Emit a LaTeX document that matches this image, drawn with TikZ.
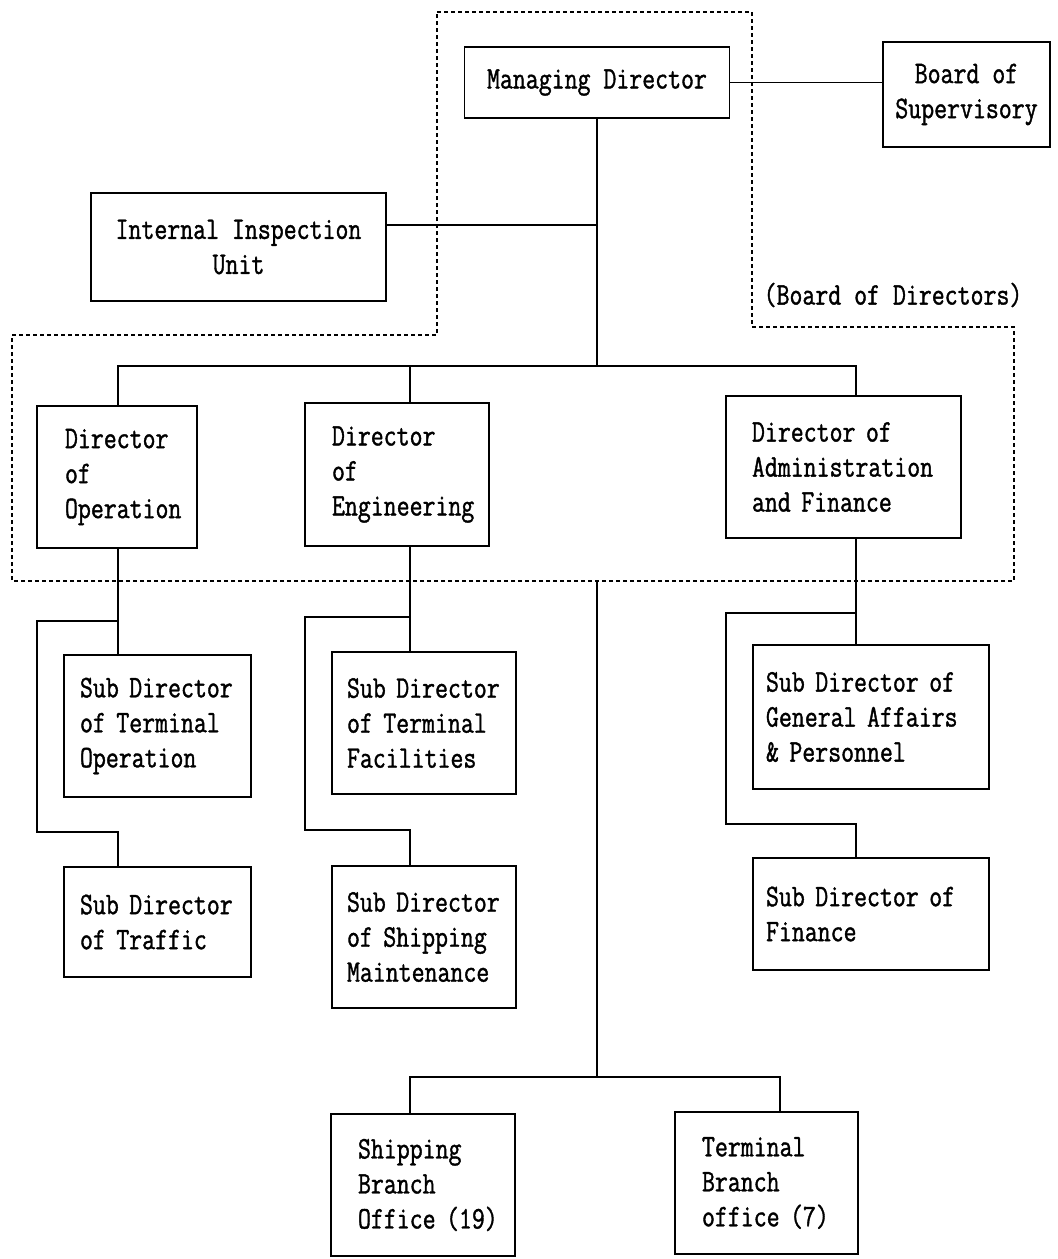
\documentclass[tikz,border=0pt]{standalone}
\usepackage{fontspec}
\usepackage{tikz}
\newfontfamily\chartfont[FakeStretch=0.8, FakeBold=1.2]{Latin Modern Mono}

\tikzset{
  unit/.style={draw, line width=0.75pt, align=left, inner xsep=0pt, inner ysep=0pt,
    font={\chartfont\fontsize{15.7}{17.5}\selectfont\hyphenpenalty=10000}},
  link/.style={line width=0.75pt},
  board/.style={line width=0.6pt, dash pattern=on 2pt off 1.5pt},
}

\begin{document}
\begin{tikzpicture}[x=0.5pt, y=-0.5pt]
\useasboundingbox (0,0) rectangle (1057,1259);
% board of directors
\draw[board] (437,12) -- (752,12) -- (752,327) -- (1014,327) -- (1014,581)
  -- (12,581) -- (12,335) -- (437,335) -- cycle;
\node[font={\chartfont\fontsize{15.7}{17.5}\selectfont}] (bod) at (893,295) {(Board of Directors)};

% top level
\node[unit, align=center, minimum width=132.5pt, minimum height=35.5pt] (md) at (597,82.5) {Managing Director};
\node[unit, align=center, minimum width=83.5pt, minimum height=52.5pt] (sup) at (966.5,94.5) {Board of\\Supervisory};
\node[unit, align=center, minimum width=147.5pt, minimum height=54pt] (iiu) at (238.5,247) {Internal Inspection\\Unit};

% directors
\node[unit, minimum width=80pt, text width=52pt, minimum height=71pt] (dop) at (117,477) {Director\\of\\Operation};
\node[unit, minimum width=92pt, text width=65pt, minimum height=71.5pt] (den) at (397,474.5) {Director\\of\\Engineering};
\node[unit, minimum width=117.5pt, text width=91.5pt, minimum height=71pt] (dad) at (843.5,467) {Director~of\\Administration\\and~Finance};

% sub directors
\node[unit, minimum width=93.5pt, text width=77.5pt, minimum height=71pt] (sto) at (157.5,726) {Sub~Director\\of~Terminal\\Operation};
\node[unit, minimum width=93.5pt, text width=77.5pt, minimum height=55pt] (str) at (157.5,922) {Sub~Director\\of~Traffic};
\node[unit, minimum width=92pt, text width=77pt, minimum height=71pt] (stf) at (424,723) {Sub~Director\\of~Terminal\\Facilities};
\node[unit, minimum width=92pt, text width=77pt, minimum height=71pt] (ssm) at (424,937) {Sub~Director\\of~Shipping\\Maintenance};
\node[unit, minimum width=118pt, text width=105pt, minimum height=72pt] (sga) at (871,717) {Sub~Director~of\\General~Affairs\\\&~Personnel};
\node[unit, minimum width=118pt, text width=105pt, minimum height=56pt] (sfi) at (871,914) {Sub~Director~of\\Finance};

% branch offices
\node[unit, minimum width=92pt, text width=65pt, minimum height=71pt] (sbo) at (423,1185) {Shipping\\Branch\\Office~(19)};
\node[unit, minimum width=91.5pt, text width=64.5pt, minimum height=71pt] (tbo) at (766.5,1183) {Terminal\\Branch\\office~(7)};

% connectors
\coordinate (j1) at (597,366);
\coordinate (c1) at (118,366);
\coordinate (c2) at (410,366);
\coordinate (c3) at (856,366);
\draw[link] (md.east) -- (md.east -| sup.west);
\draw[link] (md.south) -- (j1);
\draw[link] ([yshift=11pt]iiu.east) -- ([yshift=11pt]iiu.east -| j1);
\draw[link] (c1 |- dop.north) -- (c1) -- (c3) -- (c3 |- dad.north);
\draw[link] (c2) -- (c2 |- den.north);

\coordinate (k1) at (37,621);
\coordinate (k2) at (37,832);
\draw[link] (c1 |- dop.south) -- (c1 |- sto.north);
\draw[link] (c1 |- k1) -- (k1) -- (k2) -- (c1 |- k2) -- (c1 |- str.north);

\coordinate (k3) at (305,617);
\coordinate (k4) at (305,830);
\draw[link] (c2 |- den.south) -- (c2 |- stf.north);
\draw[link] (c2 |- k3) -- (k3) -- (k4) -- (c2 |- k4) -- (c2 |- ssm.north);

\coordinate (k5) at (726,613);
\coordinate (k6) at (726,824);
\draw[link] (c3 |- dad.south) -- (c3 |- sga.north);
\draw[link] (c3 |- k5) -- (k5) -- (k6) -- (c3 |- k6) -- (c3 |- sfi.north);

\coordinate (j2) at (597,581);
\coordinate (j3) at (597,1077);
\coordinate (c4) at (410,1077);
\coordinate (c5) at (780,1077);
\draw[link] (j2) -- (j3);
\draw[link] (c4 |- sbo.north) -- (c4) -- (c5) -- (c5 |- tbo.north);
\end{tikzpicture}
\end{document}
